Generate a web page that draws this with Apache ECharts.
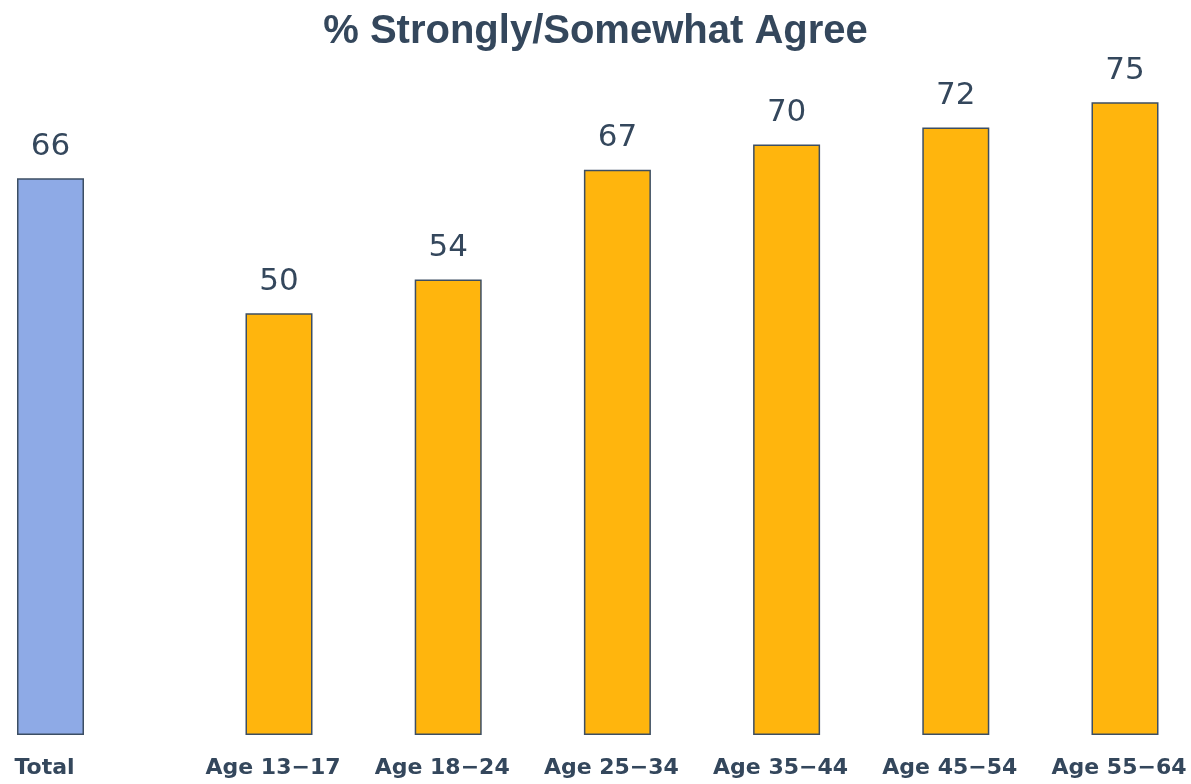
<!DOCTYPE html>
<html>
<head>
<meta charset="utf-8">
<script src="https://cdn.jsdelivr.net/npm/echarts@6/dist/echarts.min.js"></script>
<style>
  html, body { margin: 0; padding: 0; background: #ffffff; }
  #chart { width: 1191px; height: 784px; }
</style>
</head>
<body>
<div id="chart"></div>
<script>
// Overall figure
const totalCategories = ['Total'];
const totalValues = [66];

// Breakdown by age group
const ageCategories = ['Age 13−17', 'Age 18−24', 'Age 25−34', 'Age 35−44', 'Age 45−54', 'Age 55−64'];
const ageValues = [50, 54, 67, 70, 72, 75];

const chartTitle = '% Strongly/Somewhat Agree';

const textColor = '#34475c';
const borderColor = '#3c4e63';
const yMax = 80;

const chart = echarts.init(document.getElementById('chart'), null, { renderer: 'canvas' });

function xAxisFor(gridIndex, data, boundaryGap) {
  return {
    type: 'category',
    gridIndex: gridIndex,
    data: data,
    boundaryGap: boundaryGap,
    axisLine: { show: false },
    axisTick: { show: false },
    axisLabel: {
      color: textColor,
      fontFamily: 'DejaVu Sans',
      fontWeight: 'bold',
      fontSize: 22,
      margin: 22,
      padding: [0, 12, 0, 0],
      interval: 0
    }
  };
}

function yAxisFor(gridIndex) {
  return {
    type: 'value',
    gridIndex: gridIndex,
    min: 0,
    max: yMax,
    show: false,
    splitLine: { show: false }
  };
}

function barSeries(axisIndex, values, fill) {
  return {
    type: 'bar',
    xAxisIndex: axisIndex,
    yAxisIndex: axisIndex,
    data: values,
    barWidth: 67,
    itemStyle: { color: fill, borderColor: borderColor, borderWidth: 1.5 },
    label: {
      show: true,
      position: 'top',
      distance: 16,
      color: textColor,
      fontFamily: 'DejaVu Sans',
      fontSize: 31
    },
    silent: true
  };
}

chart.setOption({
  backgroundColor: '#ffffff',
  animation: false,
  title: {
    text: chartTitle,
    left: 'center',
    top: 7,
    textStyle: {
      color: textColor,
      fontFamily: 'Liberation Sans',
      fontWeight: 'bold',
      fontSize: 40
    }
  },
  grid: [
    { left: 0, width: 101, top: 60, bottom: 49 },
    // age groups: first and last bar centred on the grid edges
    { left: 279, width: 846, top: 60, bottom: 49 }
  ],
  xAxis: [xAxisFor(0, totalCategories, true), xAxisFor(1, ageCategories, false)],
  yAxis: [yAxisFor(0), yAxisFor(1)],
  series: [
    barSeries(0, totalValues, '#8eaae6'),
    barSeries(1, ageValues, '#ffb50d')
  ]
});
</script>
</body>
</html>
